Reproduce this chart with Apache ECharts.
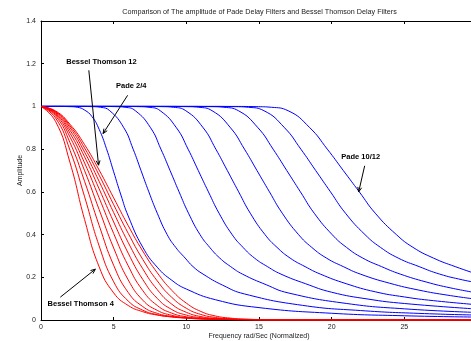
<!DOCTYPE html>
<html>
<head>
<meta charset="utf-8">
<script src="https://cdn.jsdelivr.net/npm/echarts@6.0.0/dist/echarts.min.js"></script>
<style>
html,body{margin:0;padding:0;overflow:hidden;background:#fff;}
#chart{width:520px;height:341px;}
</style>
</head>
<body>
<div id="chart"></div>
<script>
// ---- data ----
const besselX = [0,1,2,3,4,5,6,7,8,9,10,11,12,13,14,16,30];
const bessel4  = [1,0.930,0.736,0.470,0.249,0.127,0.068,0.039,0.023,0.015,0.010,0.007,0.005,0.0039,0.0031,0.002,0.0003];
const bessel5  = [1,0.946,0.794,0.577,0.347,0.179,0.089,0.046,0.025,0.014,0.009,0.005,0.0036,0.0026,0.0019,0.0011,0.0001];
const bessel6  = [1,0.956,0.830,0.649,0.443,0.256,0.129,0.063,0.031,0.017,0.009,0.005,0.0032,0.002,0.0013,0.0006,0];
const bessel7  = [1,0.962,0.856,0.699,0.517,0.337,0.188,0.093,0.045,0.022,0.011,0.006,0.0034,0.002,0.0011,0.0004,0];
const bessel8  = [1,0.967,0.874,0.735,0.572,0.405,0.254,0.138,0.068,0.032,0.015,0.008,0.004,0.002,0.001,0.0003,0];
const bessel9  = [1,0.971,0.888,0.764,0.614,0.459,0.313,0.190,0.101,0.049,0.023,0.011,0.0053,0.0025,0.0011,0.0003,0];
const bessel10 = [1,0.974,0.900,0.786,0.649,0.503,0.363,0.240,0.142,0.074,0.036,0.016,0.0077,0.0035,0.0015,0.0004,0];
const bessel11 = [1,0.976,0.909,0.805,0.678,0.540,0.406,0.284,0.183,0.106,0.055,0.026,0.0119,0.0055,0.0025,0.0005,0];
const bessel12 = [1,0.979,0.916,0.821,0.702,0.572,0.442,0.323,0.221,0.139,0.079,0.040,0.0188,0.009,0.004,0.0008,0];

const pade2_4 = [[0,1],[1,1],[2,0.999],[2.5,0.996],[3,0.983],[3.5,0.953],[4,0.893],[4.5,0.803],[5,0.694],[5.5,0.585],[6,0.487],[7,0.341],[8,0.247],[9,0.186],[10,0.145],[12,0.095],[15,0.058],[20,0.0315],[25,0.0198],[30,0.0136]];
const pade3_5 = [[0,1],[1.2,1],[2.5,1],[3.53,0.999],[4.10,0.996],[4.73,0.98],[5.70,0.9],[6.34,0.8],[6.88,0.7],[7.42,0.6],[8.0,0.5],[8.68,0.4],[9.27,0.34],[9.92,0.29],[10.46,0.25],[11.15,0.215],[12.5,0.163],[14,0.122],[18,0.0685],[22,0.0442],[26,0.031],[30,0.0231]];
const pade4_6 = [[0,1],[2.2,1],[4.0,1],[5.16,0.999],[5.79,0.996],[6.49,0.98],[7.54,0.9],[8.25,0.8],[8.88,0.7],[9.5,0.6],[10.15,0.5],[10.94,0.4],[11.61,0.34],[12.3,0.29],[13.05,0.25],[13.86,0.215],[15.5,0.165],[17,0.127],[21,0.0776],[25,0.0523],[30,0.0353]];
const pade5_7 = [[0,1],[3.3,1],[5.5,1],[6.73,0.999],[7.43,0.996],[8.2,0.98],[9.32,0.9],[10.12,0.8],[10.82,0.7],[11.52,0.6],[12.25,0.5],[13.15,0.4],[13.9,0.34],[14.69,0.29],[15.58,0.25],[16.51,0.215],[18.2,0.17],[20,0.130],[22.5,0.098],[25,0.0773],[30,0.0513]];
const pade6_8 = [[0,1],[3,1],[5.5,1],[7.0,1],[8.34,0.999],[9.11,0.996],[9.96,0.98],[11.16,0.9],[12.03,0.8],[12.82,0.7],[13.6,0.6],[14.4,0.5],[15.41,0.4],[16.24,0.34],[17.14,0.29],[18.17,0.25],[19.22,0.215],[21,0.17],[23,0.132],[25,0.108],[27,0.0906],[30,0.0716]];
const pade7_9 = [[0,1],[3,1],[6.4,1],[8.6,1],[10.0,0.999],[10.85,0.996],[11.77,0.98],[13.04,0.9],[14.0,0.8],[14.86,0.7],[15.72,0.6],[16.6,0.5],[17.72,0.4],[18.63,0.34],[19.64,0.29],[20.8,0.25],[21.97,0.215],[24,0.172],[26,0.14],[28,0.116],[30,0.097]];
const pade8_10 = [[0,1],[4,1],[7.8,1],[10.2,1],[11.68,0.999],[12.58,0.996],[13.58,0.98],[14.93,0.9],[15.97,0.8],[16.91,0.7],[17.85,0.6],[18.8,0.5],[20.03,0.4],[21.02,0.34],[22.14,0.29],[23.43,0.25],[24.72,0.215],[26.5,0.178],[28.2,0.15],[30,0.127]];
const pade9_11 = [[0,1],[5,1],[9.2,1],[11.7,1],[13.3,0.999],[14.27,0.996],[15.34,0.98],[16.76,0.9],[17.88,0.8],[18.9,0.7],[19.92,0.6],[20.95,0.5],[22.29,0.4],[23.36,0.34],[24.58,0.29],[26.02,0.25],[27.43,0.215],[29,0.188],[30,0.175]];
const pade10_12 = [[0,1],[6,1],[10.4,1],[13.1,1],[14.8,0.999],[15.86,0.996],[17.0,0.98],[18.5,0.9],[19.7,0.8],[20.8,0.7],[21.9,0.6],[23.0,0.5],[24.45,0.4],[25.6,0.34],[27,0.29],[28.5,0.25],[30,0.215]];

const xTicks = [0,5,10,15,20,25,30];
const yTicks = [0,0.2,0.4,0.6,0.8,1,1.2,1.4];

const titleText = 'Comparison of The amplitude of Pade Delay Filters and Bessel Thomson Delay Filters';
const xName = 'Frequency rad/Sec (Normalized)';
const yName = 'Amplitude';

const annotations = [
  {text:'Bessel Thomson 12', tx:4.16, ty:1.206, from:[3.29,1.169], to:[3.96,0.725]},
  {text:'Pade 2/4', tx:6.21, ty:1.094, from:[5.96,1.052], to:[4.27,0.873]},
  {text:'Pade 10/12', tx:22.0, ty:0.764, from:[22.27,0.722], to:[21.86,0.60]},
  {text:'Bessel Thomson 4', tx:2.73, ty:0.076, from:[1.33,0.107], to:[3.74,0.238]}
];

// ---- chart ----
const FONT = '"Liberation Sans", Arial, Helvetica, sans-serif';
const chart = echarts.init(document.getElementById('chart'), null, {renderer:'canvas'});

const blueSets = [pade2_4,pade3_5,pade4_6,pade5_7,pade6_8,pade7_9,pade8_10,pade9_11,pade10_12];
const redSets = [bessel4,bessel5,bessel6,bessel7,bessel8,bessel9,bessel10,bessel11,bessel12];

const series = [];
blueSets.forEach((d,i)=>{
  series.push({type:'line', name:'pade'+i, data:d, showSymbol:false, smooth:0.5,
    lineStyle:{color:'#0000ff', width:1}, itemStyle:{color:'#0000ff'}, z:3, silent:true});
});
redSets.forEach((ys,i)=>{
  series.push({type:'line', name:'bessel'+i, data:besselX.map((x,k)=>[x,ys[k]]), showSymbol:false, smooth:0.5,
    lineStyle:{color:'#ff0000', width:1}, itemStyle:{color:'#ff0000'}, z:4, silent:true});
});

const axisCommon = {
  axisLine:{show:true, onZero:false, lineStyle:{color:'#000', width:1}},
  axisTick:{show:true, inside:true, length:3, lineStyle:{color:'#000', width:1}},
  splitLine:{show:false}
};
const fmt = v => String(+(+v).toFixed(1));

chart.setOption({
  animation:false,
  backgroundColor:'#fff',
  title:{text:titleText, left:259.5, textAlign:'center', top:8.5, padding:0,
    textStyle:{fontSize:7.2, fontWeight:'normal', color:'#222', fontFamily:FONT}},
  grid:{left:41, top:21, right:43, bottom:21, containLabel:false, outerBoundsMode:'none'},
  xAxis:[
    Object.assign({type:'value', min:xTicks[0], max:xTicks[xTicks.length-1], interval:5, position:'bottom',
      axisLabel:{fontSize:7, color:'#222', margin:4, fontFamily:FONT, formatter:fmt},
      name:xName, nameLocation:'middle', nameGap:13, nameMoveOverlap:false,
      nameTextStyle:{fontSize:7, color:'#222', fontFamily:FONT, verticalAlign:'top'}}, axisCommon),
    Object.assign({type:'value', min:xTicks[0], max:xTicks[xTicks.length-1], interval:5, position:'top',
      axisLabel:{show:false}}, axisCommon)
  ],
  yAxis:[
    Object.assign({type:'value', min:yTicks[0], max:yTicks[yTicks.length-1], interval:0.2, position:'left',
      axisLabel:{fontSize:7, color:'#222', margin:5, fontFamily:FONT, formatter:fmt},
      name:yName, nameLocation:'middle', nameGap:17, nameRotate:90, nameMoveOverlap:false,
      nameTextStyle:{fontSize:7, color:'#222', fontFamily:FONT}}, axisCommon),
    Object.assign({type:'value', min:yTicks[0], max:yTicks[yTicks.length-1], interval:0.2, position:'right',
      axisLabel:{show:false}}, axisCommon)
  ],
  series:series
});

// annotations (text + arrow) placed in data coordinates
const g = [];
annotations.forEach(a=>{
  const p = chart.convertToPixel({xAxisIndex:0, yAxisIndex:0}, [a.tx, a.ty]);
  const f = chart.convertToPixel({xAxisIndex:0, yAxisIndex:0}, a.from);
  const t = chart.convertToPixel({xAxisIndex:0, yAxisIndex:0}, a.to);
  g.push({type:'text', x:p[0], y:p[1], z:10, style:{text:a.text, fill:'#000', font:'bold 7.5px '+FONT, textAlign:'center', textVerticalAlign:'middle'}});
  g.push({type:'line', z:10, shape:{x1:f[0], y1:f[1], x2:t[0], y2:t[1]}, style:{stroke:'#000', lineWidth:1}});
  const ang = Math.atan2(t[1]-f[1], t[0]-f[0]);
  const L = 5, w = 0.4;
  g.push({type:'polyline', z:10, shape:{points:[
    [t[0]-L*Math.cos(ang-w), t[1]-L*Math.sin(ang-w)], [t[0],t[1]],
    [t[0]-L*Math.cos(ang+w), t[1]-L*Math.sin(ang+w)]]}, style:{stroke:'#000', lineWidth:1, fill:null}});
});
chart.setOption({graphic:g});
</script>
</body>
</html>
